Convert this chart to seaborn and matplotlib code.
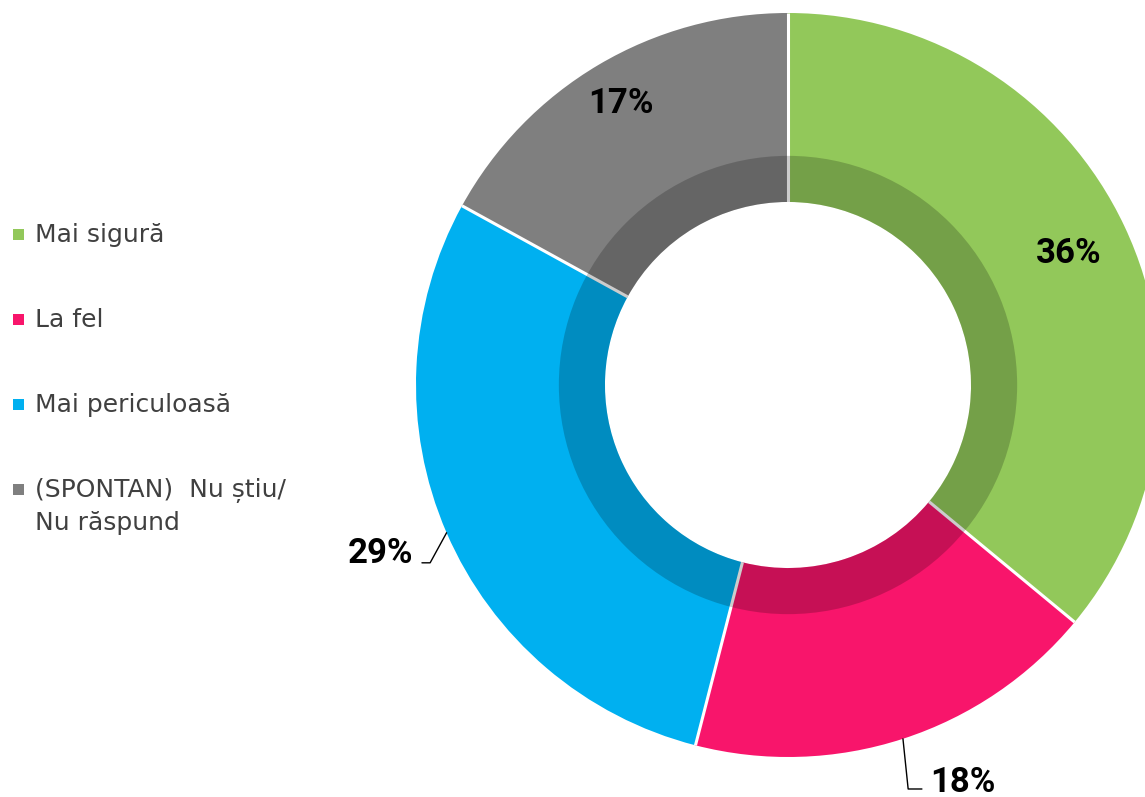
import numpy as np
import matplotlib
matplotlib.use("Agg")
import matplotlib.pyplot as plt
from matplotlib.patches import Wedge, Rectangle
import seaborn as sns

# Survey answers and their shares (percent)
categories = ["Mai sigură", "La fel", "Mai periculoasă", "(SPONTAN)  Nu știu/\nNu răspund"]
values = [36, 18, 29, 17]
colors = ["#92C85A", "#F8156B", "#00B0F0", "#7F7F7F"]

sns.set_theme(style="white")
plt.rcParams["font.family"] = ["DejaVu Sans"]

W_PX, H_PX = 1145, 797
fig = plt.figure(figsize=(W_PX / 100, H_PX / 100), dpi=100)

# Donut geometry in pixels: centre and outer radius
cx, cy, R = 788, 385, 372
ax = fig.add_axes([(cx - R) / W_PX, (H_PX - cy - R) / H_PX, 2 * R / W_PX, 2 * R / H_PX])

hole = 0.492      # inner radius (fraction of outer)
band = 0.616      # outer radius of the darker inner band

wedges, _ = ax.pie(
    values, colors=colors, startangle=90, counterclock=False, radius=1,
    wedgeprops=dict(width=1 - hole, linewidth=0),
)
# white separators between the slices
for w in wedges:
    t = np.deg2rad(w.theta1)
    ax.plot([hole * np.cos(t), np.cos(t)], [hole * np.sin(t), np.sin(t)],
            color="white", lw=2.2, solid_capstyle="butt", zorder=3)
# darker inner band laid over the ring
ax.add_patch(Wedge((0, 0), band, 0, 360, width=band - hole,
                   facecolor="black", alpha=0.2, linewidth=0, zorder=4))
ax.set_xlim(-1, 1)
ax.set_ylim(-1, 1)
ax.set_aspect("auto")
ax.axis("off")

label_font = dict(family=["Roboto", "DejaVu Sans"],
                  fontweight="bold", fontsize=25, color="black")

mids = [np.deg2rad((w.theta1 + w.theta2) / 2) for w in wedges]

# inside labels: (index, radius)
for i, r in [(0, 0.833), (3, 0.88)]:
    ax.text(r * np.cos(mids[i]), r * np.sin(mids[i]), f"{values[i]}%",
            ha="center", va="center", zorder=5, **label_font)

# outside labels with leader lines: (index, elbow, end, text pos, ha)
outside = [
    (2, (-0.962, -0.478), (-0.984, -0.478), (-1.008, -0.452), "right"),
    (1, (0.323, -1.086), (0.360, -1.086), (0.382, -1.068), "left"),
]
for i, elbow, end, tpos, ha in outside:
    sx, sy = np.cos(mids[i]), np.sin(mids[i])
    ax.plot([sx, elbow[0], end[0]], [sy, elbow[1], end[1]],
            color="black", lw=1, clip_on=False, zorder=5)
    ax.text(tpos[0], tpos[1], f"{values[i]}%", ha=ha, va="center",
            clip_on=False, zorder=5, **label_font)

# legend column on the left
baselines = [241.7, 326.7, 411.7, 496.7]
for cat, col, yb in zip(categories, colors, baselines):
    sq = 11
    fig.patches.append(Rectangle((13 / W_PX, (H_PX - yb + 2) / H_PX),
                                 sq / W_PX, sq / H_PX,
                                 transform=fig.transFigure,
                                 facecolor=col, edgecolor="none"))
    lines = cat.split("\n")
    for k, line in enumerate(lines):
        fig.text(35 / W_PX, (H_PX - yb - k * 33.3) / H_PX, line,
                 ha="left", va="baseline", fontsize=18, color="#404040")

fig.savefig("out.png", dpi=100)
